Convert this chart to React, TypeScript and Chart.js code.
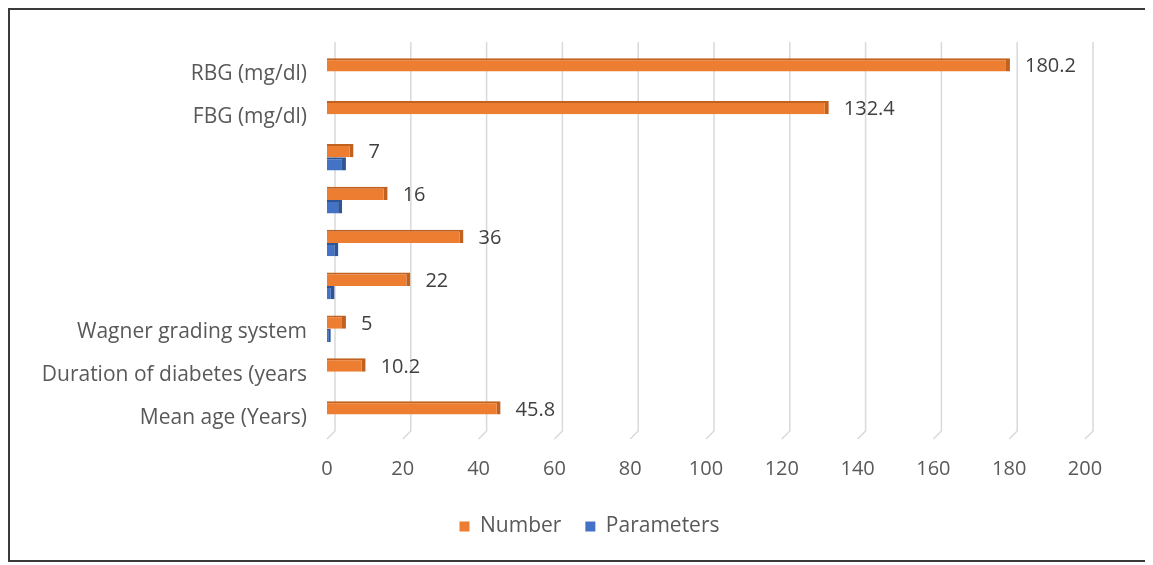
import React, { useEffect, useRef } from "react";
import { Chart, registerables } from "chart.js";

Chart.register(...registerables);

const categories = [
  "RBG (mg/dl)",
  "FBG (mg/dl)",
  "",
  "",
  "",
  "",
  "Wagner grading system",
  "Duration of diabetes (years",
  "Mean age (Years)",
];
const numberValues = [180.2, 132.4, 7, 16, 36, 22, 5, 10.2, 45.8];
const parameterValues = [null, null, 5, 4, 3, 2, 1, null, null];
const xTickValues = [0, 20, 40, 60, 80, 100, 120, 140, 160, 180, 200];

const FONT = "'Open Sans', sans-serif";
const TEXT = "#595959";
const W = 1137;
const H = 550;

const grid3d = {
  id: "grid3d",
  beforeDatasetsDraw(chart: any) {
    const { ctx, chartArea, scales } = chart;
    const xs = scales.x;
    ctx.save();
    ctx.strokeStyle = "#d9d9d9";
    ctx.lineWidth = 1.5;
    for (const v of xTickValues) {
      const px = xs.getPixelForValue(v);
      ctx.beginPath();
      ctx.moveTo(px + 8, chartArea.top - 8);
      ctx.lineTo(px + 8, chartArea.bottom - 5);
      ctx.lineTo(px, chartArea.bottom + 3);
      ctx.stroke();
    }
    ctx.restore();
  },
};

const legendShift = {
  id: "legendShift",
  afterLayout(chart: any) {
    const lg = chart.legend;
    if (lg) {
      lg.left += 42;
      lg.right += 42;
    }
  },
};

const valueLabels = {
  id: "valueLabels",
  afterDatasetsDraw(chart: any) {
    const { ctx } = chart;
    const meta = chart.getDatasetMeta(0);
    ctx.save();
    ctx.fillStyle = "#404040";
    ctx.font = `20px ${FONT}`;
    ctx.textAlign = "left";
    ctx.textBaseline = "middle";
    meta.data.forEach((bar: any, i: number) => {
      const v = numberValues[i];
      if (v == null) return;
      ctx.fillText(String(v), bar.x + 15, bar.y + 2);
    });
    ctx.restore();
  },
};

export default function App() {
  const ref = useRef<HTMLCanvasElement>(null);
  useEffect(() => {
    if (!ref.current) return;
    const chart = new Chart(ref.current, {
      type: "bar",
      data: {
        labels: categories,
        datasets: [
          {
            label: "Number",
            data: numberValues,
            backgroundColor: "#ED7D31",
            borderColor: "#C0611F",
            borderWidth: { top: 2, right: 4, bottom: 0, left: 0 },
            borderSkipped: false,
            categoryPercentage: 0.62,
            barPercentage: 1,
          },
          {
            label: "Parameters",
            data: parameterValues,
            backgroundColor: "#4472C4",
            borderColor: "#2F5597",
            borderWidth: { top: 2, right: 4, bottom: 0, left: 0 },
            borderSkipped: false,
            categoryPercentage: 0.62,
            barPercentage: 1,
          },
        ],
      },
      options: {
        indexAxis: "y",
        animation: false,
        responsive: false,
        maintainAspectRatio: false,
        layout: { padding: { top: 40, right: 62, bottom: 13, left: 0 } },
        scales: {
          x: {
            min: 0,
            max: 200,
            ticks: {
              stepSize: 20,
              padding: 21,
              color: TEXT,
              font: { family: FONT, size: 20 },
            },
            grid: { display: false, drawTicks: false },
            border: { display: false },
            afterFit(scale: any) {
              scale.height = 56;
            },
          },
          y: {
            ticks: {
              padding: 20,
              labelOffset: 3,
              color: TEXT,
              font: { family: FONT, size: 21 },
            },
            grid: { display: false, drawTicks: false },
            border: { display: false },
            afterFit(scale: any) {
              scale.width = 317;
            },
          },
        },
        plugins: {
          legend: {
            position: "bottom",
            labels: {
              boxWidth: 10,
              boxHeight: 10,
              padding: 24,
              color: TEXT,
              font: { family: FONT, size: 21 },
              generateLabels(chart: any) {
                return chart.data.datasets.map((ds: any, i: number) => ({
                  text: ds.label,
                  fillStyle: ds.backgroundColor,
                  strokeStyle: ds.backgroundColor,
                  lineWidth: 0,
                  fontColor: TEXT,
                  hidden: false,
                  datasetIndex: i,
                }));
              },
            },
          },
          tooltip: { enabled: false },
        },
      },
      plugins: [grid3d, valueLabels, legendShift],
    } as any);
    return () => chart.destroy();
  }, []);
  return (
    <div
      style={{
        width: W,
        height: H,
        border: "2px solid #3a3a3a",
        boxShadow: "0 0 3px 1px rgba(0,0,0,0.5)",
        background: "#fff",
      }}
    >
      <canvas ref={ref} width={W} height={H} style={{ display: "block" }} />
    </div>
  );
}
